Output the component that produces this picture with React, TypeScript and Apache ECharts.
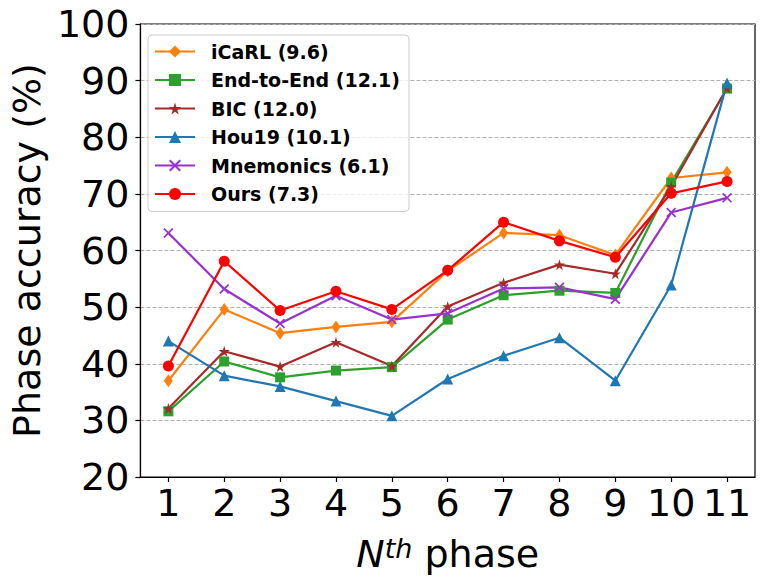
import React, { useEffect, useRef } from "react";
import * as echarts from "echarts";

const phases = ["1", "2", "3", "4", "5", "6", "7", "8", "9", "10", "11"];
const yTicks = { min: 20, max: 100, step: 10 };

const icarl = [37.0, 49.6, 45.4, 46.5, 47.4, 56.4, 63.1, 62.7, 59.2, 72.8, 73.8];
const endToEnd = [31.6, 40.4, 37.6, 38.8, 39.4, 47.8, 52.1, 52.9, 52.5, 72.0, 88.6];
const bic = [32.1, 42.2, 39.5, 43.8, 39.6, 50.1, 54.3, 57.5, 55.9, 71.3, 88.7];
const hou19 = [44.0, 37.9, 36.0, 33.4, 30.8, 37.3, 41.4, 44.6, 37.0, 53.9, 89.6];
const mnemonics = [63.1, 53.2, 47.1, 52.0, 47.8, 48.9, 53.3, 53.5, 51.4, 66.7, 69.3];
const ours = [39.6, 58.1, 49.4, 52.8, 49.6, 56.5, 65.0, 61.7, 58.8, 70.1, 72.2];

const seriesNames = [
  "iCaRL (9.6)",
  "End-to-End (12.1)",
  "BIC (12.0)",
  "Hou19 (10.1)",
  "Mnemonics (6.1)",
  "Ours (7.3)",
];

const STAR = "path://M50 0L61 35L98 35L68 57L79 91L50 70L21 91L32 57L2 35L39 35Z";
const XMARK =
  "path://M0 12L12 0L50 38L88 0L100 12L62 50L100 88L88 100L50 62L12 100L0 88L38 50Z";

const FONT = "DejaVu Sans";

export default function App() {
  const ref = useRef<HTMLDivElement>(null);
  useEffect(() => {
    if (!ref.current) return;
    const chart = echarts.init(ref.current, undefined, { renderer: "svg" });
    const mk = (
      name: string,
      data: number[],
      color: string,
      symbol: string,
      size: number | number[]
    ) => ({
      name,
      type: "line",
      data,
      symbol,
      symbolSize: size,
      showSymbol: true,
      lineStyle: { color, width: 2.2 },
      itemStyle: { color },
      emphasis: { disabled: true },
    });
    chart.setOption({
      animation: false,
      backgroundColor: "#ffffff",
      grid: {
        left: 138,
        top: 24,
        right: 16,
        bottom: 111,
        show: true,
        borderColor: "#000",
        borderWidth: 1.2,
        backgroundColor: "transparent",
      },
      legend: {
        left: 148,
        top: 35,
        orient: "vertical",
        padding: [7, 9, 8, 6],
        itemWidth: 40,
        itemHeight: 15,
        itemGap: 9.5,
        backgroundColor: "rgba(255,255,255,0.8)",
        borderColor: "#cccccc",
        borderWidth: 1,
        borderRadius: 4,
        data: seriesNames,
        textStyle: {
          fontFamily: FONT,
          fontWeight: "bold",
          fontSize: 19,
          lineHeight: 19,
          color: "#000",
          padding: [0, 0, 0, 11],
        },
      },
      xAxis: {
        type: "category",
        data: phases,
        boundaryGap: true,
        name: "{it|N}{sup|th}{n| phase}",
        nameLocation: "middle",
        nameGap: 58,
        nameTextStyle: {
          fontFamily: FONT,
          color: "#000",
          fontSize: 38,
          rich: {
            it: { fontFamily: FONT, fontSize: 38, fontStyle: "italic", color: "#000", verticalAlign: "bottom" },
            sup: {
              fontFamily: FONT,
              fontSize: 27,
              fontStyle: "italic",
              color: "#000",
              verticalAlign: "top",
              lineHeight: 20,
            },
            n: { fontFamily: FONT, fontSize: 38, color: "#000", verticalAlign: "bottom" },
          },
        },
        axisLine: { show: true, lineStyle: { color: "#000", width: 1.2 } },
        axisTick: { show: true, alignWithLabel: true, interval: 0, length: 5, lineStyle: { color: "#000", width: 1.2 } },
        axisLabel: { fontFamily: FONT, fontSize: 38, color: "#000", margin: 7, interval: 0 },
        splitLine: { show: false },
      },
      yAxis: {
        type: "value",
        min: yTicks.min,
        max: yTicks.max,
        interval: yTicks.step,
        name: "Phase accuracy (%)",
        nameLocation: "middle",
        nameGap: 90,
        nameTextStyle: { fontFamily: FONT, fontSize: 38, color: "#000" },
        axisLine: { show: true, lineStyle: { color: "#000", width: 1.2 } },
        axisTick: { show: true, length: 5, lineStyle: { color: "#000", width: 1.2 } },
        axisLabel: { fontFamily: FONT, fontSize: 38, color: "#000", margin: 11 },
        splitLine: {
          show: true,
          lineStyle: { color: "#b0b0b0", width: 1, type: [4, 2] },
        },
      },
      series: [
        mk(seriesNames[0], icarl, "#ff7f0e", "diamond", [9, 13]),
        mk(seriesNames[1], endToEnd, "#2ca02c", "rect", 10),
        mk(seriesNames[2], bic, "#a52a2a", STAR, 11),
        mk(seriesNames[3], hou19, "#1f77b4", "triangle", 11),
        mk(seriesNames[4], mnemonics, "#9932cc", XMARK, 10),
        mk(seriesNames[5], ours, "#ff0000", "circle", 11),
      ],
    });
    return () => chart.dispose();
  }, []);
  return (
    <div
      ref={ref}
      style={{ position: "fixed", left: 0, top: 0, width: 771, height: 588, background: "#fff" }}
    />
  );
}
